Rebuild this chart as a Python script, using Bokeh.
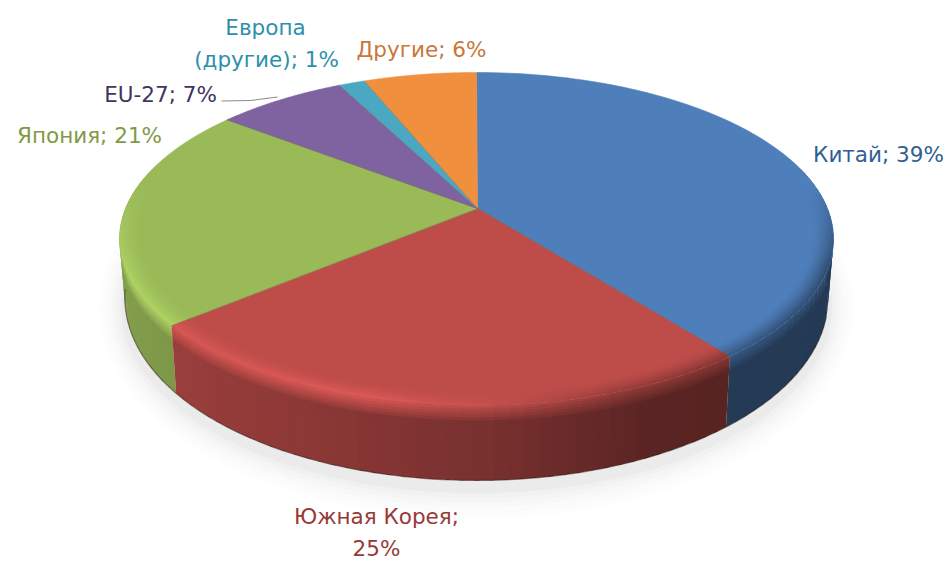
import numpy as np
from bokeh.plotting import figure
from bokeh.core.properties import value
from bokeh.embed import file_html
from bokeh.resources import INLINE

# slices clockwise from 12 o'clock
categories = ["Китай", "Южная Корея", "Япония", "EU-27", "Европа (другие)", "Другие"]
shares = [39.4, 24.5, 21.6, 7.0, 1.4, 6.1]
base_colors = ["#4F7FBB", "#BE4D4A", "#9ABA58", "#7F62A0", "#4AA8C3", "#F0903F"]

label_lines = ["Китай; 39%", "Южная Корея;", "25%", "Япония; 21%", "EU-27; 7%", "Европа", "(другие); 1%", "Другие; 6%"]
label_x = [878, 376, 376, 89, 160, 265, 266, 421]
label_y = [154, 516, 548, 135, 94, 27, 59, 49]
label_colors = ["#2F5F94", "#963A38", "#963A38", "#7F9A45", "#3F3560", "#2E8FAB", "#2E8FAB", "#C9773A"]

W, H = 944, 562
CX, CY, RH, RV, K = 476.0, 208.0, 351.0, 160.9, 0.183


def project(theta, r=1.0):
    X, Y = r * np.sin(theta), r * np.cos(theta)
    w = 1 + K * Y
    return CX + RH * X / w, CY - RV * Y / w


def bottom(theta, frac=1.0):
    x, y = project(theta)
    c = np.cos(theta)
    d = 55 - 20 * c if c < 0 else 55 - 5 * c
    return CX + (x - CX) * (1 - 0.015 * frac), y + d * frac


def rgb(h):
    return np.array([int(h[i:i + 2], 16) for i in (1, 3, 5)], dtype=float)


def hexc(c):
    c = np.clip(np.round(c), 0, 255).astype(int)
    return "#%02x%02x%02x" % tuple(c)


def side_f(u):
    return np.interp(u, [0, .1, .5, .75, 1], [.85, .8, .64, .47, .45])


def rim_f(u):
    return np.interp(u, [0, .35, .55, .7, 1], [1.12, 1.16, 1.0, .8, .62])


p = figure(width=W, height=H, x_range=(0, W), y_range=(H, 0),
           output_backend="svg", toolbar_location=None, min_border=0)
p.axis.visible = False
p.grid.visible = False
p.outline_line_color = None
p.background_fill_color = "white"
p.border_fill_color = "white"

# soft ground shadow
ring = np.linspace(0, 2 * np.pi, 241)
bx = np.array([bottom(t)[0] for t in ring])
by = np.array([bottom(t)[1] for t in ring])
for grow, alpha in [(26, .01), (21, .012), (16, .014), (12, .016), (8, .02), (4, .026)]:
    sx = CX + (bx - CX) * (1 + grow / 360)
    sy = (by + 8).mean() + (by + 8 - (by + 8).mean()) * (1 + grow / 170)
    p.patch(sx, sy, fill_color="#303030", fill_alpha=alpha, line_color=None)

edges = np.concatenate([[0], np.cumsum(shares)]) / np.sum(shares) * 2 * np.pi
OVER = np.radians(0.35)
STEP = np.radians(2.0)

# outer wall, back to front
xs, ys, cs = [], [], []
segs = []
for i in range(len(shares)):
    n = max(2, int((edges[i + 1] - edges[i]) / STEP))
    a = np.linspace(edges[i], edges[i + 1], n + 1)
    for t0, t1 in zip(a[:-1], a[1:]):
        if np.cos((t0 + t1) / 2) < 0.25:
            segs.append((np.cos((t0 + t1) / 2), max(t0 - OVER, edges[i]), min(t1 + OVER, edges[i + 1]), i))
segs.sort(key=lambda s: -s[0])
rows = [0, .04, .08, .12, .16, .2, .25, 1]
for _, t0, t1, i in segs:
    b = rgb(base_colors[i])
    um = (project((t0 + t1) / 2)[0] - 118) / 715
    for f0, f1 in zip(rows[:-1], rows[1:]):
        P = [bottom(t0, f0), bottom(t1, f0), bottom(t1, min(f1 + .012, 1)), bottom(t0, min(f1 + .012, 1))]
        mix = min(1.0, f1 / .25)
        c = b * (rim_f(um) * (1 - mix) + side_f(um) * mix)
        xs.append([q[0] for q in P])
        ys.append([q[1] for q in P])
        cs.append(hexc(c))
p.patches(xs, ys, fill_color=cs, line_color=None)

# dark lower edge of the wall
a = np.linspace(np.radians(106), np.radians(262), 120)
p.line([bottom(t)[0] for t in a], [bottom(t)[1] for t in a], line_color="#2a1a14", line_alpha=.5, line_width=1.2)

# top faces
for i in range(len(shares)):
    a = np.linspace(edges[i], edges[i + 1], 90)
    x, y = project(a)
    p.patch(np.r_[CX + 1, x], np.r_[CY, y], fill_color=base_colors[i], line_color=base_colors[i], line_width=0.6)

# rounded bevel along the front of the rim
radii = np.linspace(.94, 1.0, 10)
xs, ys, cs = [], [], []
for i in range(len(shares)):
    b = rgb(base_colors[i])
    n = max(2, int((edges[i + 1] - edges[i]) / STEP))
    a = np.linspace(edges[i], edges[i + 1], n + 1)
    for t0, t1 in zip(a[:-1], a[1:]):
        tm = (t0 + t1) / 2
        s = np.clip((0.15 - np.cos(tm)) / 0.5, 0, 1)
        if s <= 0:
            continue
        um = (project(tm)[0] - 118) / 715
        t0o, t1o = max(t0 - OVER, edges[i]), min(t1 + OVER, edges[i + 1])
        for j in range(len(radii) - 1):
            r0, r1 = radii[j], min(radii[j + 1] + .003, 1.0)
            m = s * ((j + 1) / (len(radii) - 1)) ** 1.6
            c = b * (1 + (rim_f(um) - 1) * m)
            xa, ya = project(np.array([t0o, t1o]), r0)
            xb, yb = project(np.array([t1o, t0o]), r1)
            xs.append(list(xa) + list(xb))
            ys.append(list(ya) + list(yb))
            cs.append(hexc(c))
p.patches(xs, ys, fill_color=cs, line_color=None)

# thin seams between slices
for i in range(1, len(shares)):
    x, y = project(edges[i])
    p.line([CX + 1, x], [CY, y], line_color="#6A6A55", line_alpha=.4, line_width=1)

# leader line for EU-27
leader_x = [221, 250, 277]
leader_y = [100.5, 100, 96.5]
p.line(leader_x, leader_y, line_color="#8A8A8A", line_width=1)

p.text(label_x, label_y, text=label_lines, text_color=label_colors,
       text_font=value("DejaVu Sans"), text_font_size="21.5px",
       text_align="center", text_baseline="middle")

open("out.html", "w").write(file_html(p, INLINE))
